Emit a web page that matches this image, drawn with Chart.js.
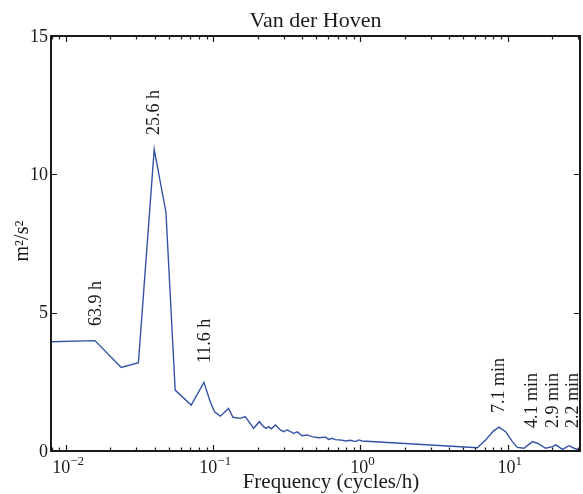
<!DOCTYPE html>
<html>
<head>
<meta charset="utf-8">
<script src="https://cdn.jsdelivr.net/npm/chart.js@4/dist/chart.umd.min.js"></script>
<style>
	html, body { margin: 0; padding: 0; background: #fff; }
	#wrap { width: 583px; height: 494px; }
</style>
</head>
<body>
<div id="wrap"><canvas id="psd"></canvas></div>
<script>
// spectrum (cycles/h -> m2/s2)
const freq = [0.0079, 0.0157, 0.0237, 0.031, 0.0397, 0.0477, 0.0551, 0.0708, 0.0864, 0.0954,
	0.102, 0.1117, 0.127, 0.136, 0.1526, 0.165, 0.188, 0.2056, 0.2198, 0.2284,
	0.2378, 0.248, 0.2643, 0.2855, 0.3008, 0.317, 0.334, 0.3517, 0.3726, 0.401,
	0.4337, 0.469, 0.52, 0.578, 0.608, 0.641, 0.676, 0.731, 0.791, 0.855,
	0.925, 0.973, 1.027, 6.22, 7.08, 8.0, 8.73, 9.69, 10.77, 11.64,
	12.91, 14.72, 15.92, 18.14, 20.14, 21.2, 23.57, 26.1, 28.25, 30.5]
const power = [3.95, 3.99, 3.02, 3.19, 10.9, 8.63, 2.2, 1.66, 2.48, 1.78,
	1.42, 1.26, 1.54, 1.22, 1.18, 1.24, 0.82, 1.06, 0.88, 0.82,
	0.88, 0.8, 0.94, 0.76, 0.7, 0.76, 0.7, 0.64, 0.69, 0.55,
	0.58, 0.52, 0.48, 0.5, 0.42, 0.46, 0.41, 0.4, 0.36, 0.39,
	0.34, 0.4, 0.36, 0.12, 0.4, 0.72, 0.86, 0.7, 0.34, 0.13,
	0.1, 0.34, 0.28, 0.1, 0.16, 0.22, 0.06, 0.19, 0.1, 0.04]

// peak labels
const peakText = ['63.9 h', '25.6 h', '11.6 h', '7.1 min', '4.1 min', '2.9 min', '2.2 min']
const peakFreq = [0.016, 0.0397, 0.0882, 8.71, 14.8, 20.5, 28.1]
const peakLevel = [4.52, 11.42, 3.18, 1.37, 0.83, 0.83, 0.83]

const yTicks = [0, 5, 10, 15]
const xDecades = [-2, -1, 0, 1]
const xMin = 0.0079, xMax = 31

const serif = '"Liberation Serif", "DejaVu Serif", serif'
const ink = '#1a1a1a'

const frame = {
	id: 'frame',
	afterDraw(chart) {
		const ctx = chart.ctx
		const a = chart.chartArea
		const xs = chart.scales.x, ys = chart.scales.y
		ctx.save()
		ctx.strokeStyle = ink
		ctx.fillStyle = ink

		// box
		ctx.lineWidth = 2
		ctx.strokeRect(a.left, a.top, a.right - a.left, a.bottom - a.top)

		// log ticks top and bottom
		ctx.lineWidth = 1.2
		for (let d = -3; d <= 1; d++) {
			for (let m = 1; m <= 9; m++) {
				const v = m * Math.pow(10, d)
				if (v < xMin || v > xMax) continue
				const px = Math.round(xs.getPixelForValue(v)) + 0.5
				const len = m == 1 ? 6 : 3.5
				ctx.beginPath()
				ctx.moveTo(px, a.bottom); ctx.lineTo(px, a.bottom - len)
				ctx.moveTo(px, a.top); ctx.lineTo(px, a.top + len)
				ctx.stroke()
			}
		}
		// y ticks left and right
		for (const t of yTicks) {
			const py = Math.round(ys.getPixelForValue(t)) + 0.5
			ctx.beginPath()
			ctx.moveTo(a.left, py); ctx.lineTo(a.left + 6, py)
			ctx.moveTo(a.right, py); ctx.lineTo(a.right - 6, py)
			ctx.stroke()
		}

		// y tick labels
		ctx.font = `18px ${serif}`
		ctx.textAlign = 'right'
		ctx.textBaseline = 'middle'
		for (const t of yTicks) ctx.fillText(String(t), a.left - 3, ys.getPixelForValue(t) + 1)

		// x tick labels 10^n
		for (const d of xDecades) {
			const px = xs.getPixelForValue(Math.pow(10, d))
			const sup = d < 0 ? '\u2212' + (-d) : String(d)
			ctx.font = `18px ${serif}`
			const w1 = ctx.measureText('10').width
			ctx.font = `13px ${serif}`
			const w2 = ctx.measureText(sup).width
			const x0 = px - (w1 + w2) / 2 + 2
			ctx.textAlign = 'left'
			ctx.textBaseline = 'alphabetic'
			ctx.font = `18px ${serif}`
			ctx.fillText('10', x0, 473)
			ctx.font = `13px ${serif}`
			ctx.fillText(sup, x0 + w1, 465)
		}

		// axis titles
		ctx.textAlign = 'center'
		ctx.textBaseline = 'alphabetic'
		ctx.font = `21px ${serif}`
		ctx.fillText('Frequency (cycles/h)', 331, 488)
		ctx.font = `22px ${serif}`
		ctx.fillText('Van der Hoven', (a.left + a.right) / 2, 27)

		ctx.save()
		ctx.translate(23, 241)
		ctx.rotate(-Math.PI / 2)
		ctx.textBaseline = 'middle'
		ctx.font = `20px ${serif}`
		ctx.fillText('m\u00b2/s\u00b2', 0, 0)
		ctx.restore()

		// peak labels
		ctx.font = `18px ${serif}`
		ctx.textAlign = 'left'
		ctx.textBaseline = 'middle'
		peakText.forEach((txt, i) => {
			ctx.save()
			ctx.translate(xs.getPixelForValue(peakFreq[i]), ys.getPixelForValue(peakLevel[i]))
			ctx.rotate(-Math.PI / 2)
			ctx.fillText(txt, 0, 0)
			ctx.restore()
		})
		ctx.restore()
	}
}

new Chart('psd', {
	type: 'line',
	data: {
		datasets: [{
			data: freq.map((f, i) => ({ x: f, y: power[i] })),
			borderColor: '#3551a6',
			borderWidth: 1.4,
			pointRadius: 0,
			tension: 0,
			fill: false
		}]
	},
	options: {
		responsive: true,
		maintainAspectRatio: false,
		animation: false,
		layout: { padding: { left: 51, right: 3, top: 36, bottom: 43 } },
		plugins: {
			legend: { display: false },
			tooltip: { enabled: false },
			title: { display: false }
		},
		scales: {
			x: { type: 'logarithmic', min: xMin, max: xMax, display: false },
			y: { type: 'linear', min: 0, max: 15, display: false }
		}
	},
	plugins: [frame]
})
</script>
</body>
</html>
